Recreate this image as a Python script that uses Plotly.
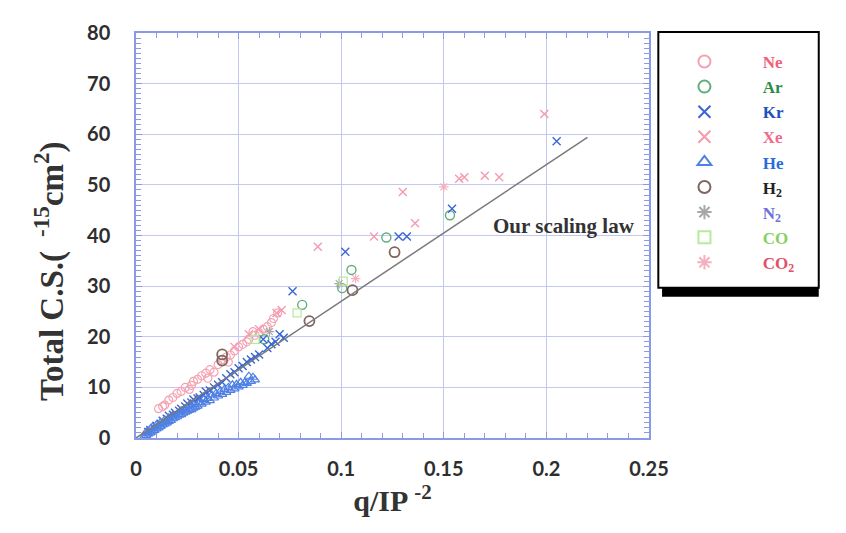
import plotly.graph_objects as go

# ---- data ----
ne_x = [0.011, 0.013, 0.014, 0.016, 0.018, 0.020, 0.022, 0.024, 0.026, 0.027, 0.028, 0.030, 0.032, 0.034,
        0.035, 0.036, 0.038, 0.040, 0.042, 0.044, 0.045, 0.046, 0.048, 0.050, 0.052, 0.054, 0.055, 0.057,
        0.058, 0.060, 0.062, 0.064, 0.066, 0.067, 0.069]
ne_y = [5.8, 6.2, 6.5, 7.5, 8.0, 8.8, 9.2, 10.0, 9.6, 10.4, 11.2, 11.6, 12.3, 12.8,
        11.8, 13.5, 13.0, 14.5, 15.5, 16.0, 15.0, 16.4, 17.2, 18.0, 18.5, 19.0, 19.5, 21.0,
        20.3, 20.8, 21.5, 22.0, 22.8, 23.6, 24.7]

ar_x = [0.0625, 0.081, 0.1005, 0.105, 0.122, 0.153]
ar_y = [19.5, 26.3, 29.6, 33.2, 39.6, 44.0]

kr_x = [0.006, 0.007, 0.009, 0.010, 0.012, 0.013, 0.015, 0.016, 0.018, 0.019, 0.021, 0.022, 0.024, 0.025,
        0.027, 0.028, 0.030, 0.031, 0.033, 0.034, 0.036, 0.038, 0.040, 0.042, 0.044, 0.046, 0.048, 0.050,
        0.052, 0.054, 0.056, 0.058, 0.060, 0.062, 0.064, 0.066, 0.068, 0.070, 0.072,
        0.0763, 0.102, 0.128, 0.132, 0.154, 0.205]
kr_y = [1.2, 1.6, 2.0, 2.4, 2.8, 3.4, 3.8, 4.4, 4.6, 5.0, 5.4, 5.8, 6.2, 6.8,
        7.0, 7.6, 7.8, 8.0, 8.5, 9.2, 9.4, 10.0, 10.5, 11.0, 11.8, 12.6, 13.0, 13.8,
        14.2, 15.0, 15.5, 16.0, 16.5, 19.5, 17.8, 18.5, 19.0, 20.5, 19.8,
        29.0, 36.8, 39.8, 39.8, 45.3, 58.6]

xe_x = [0.048, 0.055, 0.060, 0.0685, 0.071, 0.0886, 0.116, 0.130, 0.136, 0.1575, 0.160, 0.170, 0.177, 0.199]
xe_y = [18.0, 20.5, 21.5, 24.7, 25.3, 37.8, 39.8, 48.6, 42.4, 51.2, 51.5, 51.8, 51.5, 64.0]

he_x = [0.004, 0.005, 0.005, 0.006, 0.007, 0.007, 0.008, 0.008, 0.009, 0.010, 0.010, 0.011, 0.012, 0.012,
        0.013, 0.014, 0.014, 0.015, 0.016, 0.016, 0.017, 0.018, 0.018, 0.019, 0.020, 0.021, 0.022, 0.022,
        0.023, 0.024, 0.024, 0.025, 0.026, 0.026, 0.027, 0.028, 0.028, 0.029, 0.030, 0.031, 0.032, 0.033,
        0.034, 0.035, 0.036, 0.037, 0.038, 0.039, 0.040, 0.041, 0.042, 0.043, 0.044, 0.045, 0.046, 0.047,
        0.048, 0.049, 0.050, 0.051, 0.052, 0.053, 0.054, 0.055, 0.056, 0.057, 0.058]
he_y = [0.3, 0.5, 1.2, 0.8, 1.0, 1.8, 1.2, 2.2, 1.5, 1.8, 2.6, 2.0, 2.3, 3.1,
        2.6, 2.8, 3.6, 3.0, 3.3, 4.0, 3.5, 3.8, 4.5, 4.0, 4.2, 4.5, 4.6, 5.4,
        4.9, 5.1, 5.8, 5.3, 5.5, 6.4, 5.6, 5.9, 6.6, 6.1, 6.3, 7.0, 6.7, 7.6,
        7.1, 7.8, 7.4, 8.5, 7.9, 8.8, 8.3, 9.2, 8.6, 9.6, 9.0, 10.0, 9.4, 10.5,
        9.7, 10.6, 10.1, 11.0, 10.4, 11.0, 10.8, 12.2, 11.2, 12.0, 11.5]

h2_x = [0.042, 0.042, 0.0845, 0.1055, 0.126]
h2_y = [16.5, 15.3, 23.1, 29.2, 36.7]

n2_x = [0.065, 0.099]
n2_y = [21.0, 30.5]

co_x = [0.058, 0.0785, 0.101]
co_y = [19.5, 24.7, 31.0]

co2_x = [0.107, 0.150]
co2_y = [31.5, 49.6]

fit_x = [0.0, 0.22]
fit_slope = 270.0

x_ticks = [0, 0.05, 0.1, 0.15, 0.2, 0.25]
x_tick_labels = ["0", "0.05", "0.1", "0.15", "0.2", "0.25"]
y_ticks = [0, 10, 20, 30, 40, 50, 60, 70, 80]

# ---- figure ----
NBSP = "\u00a0"
series = [
    ("Ne", ne_x, ne_y, "circle-open", "#f5a3b3", "#f0607a", 1.2, 8),
    ("Ar", ar_x, ar_y, "circle-open", "#5fae7a", "#2e8b4a", 1.4, 9),
    ("Kr", kr_x, kr_y, "x-thin-open", "#3a66d4", "#1f4fc0", 1.4, 8),
    ("Xe", xe_x, xe_y, "x-thin-open", "#f59ab0", "#f06a8a", 1.4, 8),
    ("He", he_x, he_y, "triangle-up-open", "#4f80e4", "#2a6ae0", 1.2, 8),
    ("H<sub>2</sub>", h2_x, h2_y, "circle-open", "#80665c", "#222222", 1.8, 10),
    ("N<sub>2</sub>", n2_x, n2_y, "asterisk-open", "#a8a8a8", "#7070d8", 1.2, 8),
    ("CO", co_x, co_y, "square-open", "#b6ea9c", "#88d060", 1.2, 8),
    ("CO<sub>2</sub>", co2_x, co2_y, "asterisk-open", "#f5b0c0", "#e0506a", 1.2, 8),
]

fig = go.Figure()
for name, xs, ys, sym, mcol, tcol, lw, sz in series:
    fig.add_trace(go.Scatter(
        x=xs, y=ys, mode="markers",
        name=NBSP * 9 + f"<span style='color:{tcol}'>{name}</span>" + NBSP * 10,
        marker=dict(symbol=sym, size=sz, color=mcol, line=dict(color=mcol, width=lw)),
        hoverinfo="skip",
    ))

fig.add_trace(go.Scatter(
    x=fit_x, y=[fit_slope * v for v in fit_x], mode="lines",
    line=dict(color="#7a7a7a", width=1.5), showlegend=False, hoverinfo="skip",
))

fig.add_annotation(x=0.2086, y=41.8, xref="x", yref="y", text="Our scaling law",
                   showarrow=False, font=dict(family="Liberation Serif", size=21, color="#333333", weight="bold"))

def px_x(p):
    return (p - 128) / 550.0

def px_y(p):
    return (430 - p) / 407.0

fig.add_annotation(x=px_x(36), y=px_y(262), xref="paper", yref="paper", textangle=-90,
                   text="Total C.S.( <sup> -15</sup>cm<sup>2</sup>)", showarrow=False,
                   xanchor="center", yanchor="middle",
                   font=dict(family="Liberation Serif", size=33, color="#333333", weight="bold"))

axis_col = "#8a9ae8"
grid_col = "#c2c8f2"
tick_font = dict(family="Lato", size=20, color="#2e2e2e", weight="bold")

fig.update_xaxes(
    range=[0, 0.25], tickvals=x_ticks, ticktext=x_tick_labels,
    showgrid=True, gridcolor=grid_col, gridwidth=1,
    showline=True, linecolor=axis_col, linewidth=1.5, mirror="ticks",
    ticks="inside", ticklen=6, tickcolor=axis_col,
    minor=dict(dtick=0.01, ticks="inside", ticklen=5, tickcolor=axis_col, showgrid=False),
    tickfont=tick_font, ticklabelstandoff=12, zeroline=False,
    title=dict(text="q/IP <sup>-2</sup>", standoff=10,
               font=dict(family="Liberation Serif", size=30, color="#333333", weight="bold")),
)
fig.update_yaxes(
    range=[0, 80], tickvals=y_ticks,
    showgrid=True, gridcolor=grid_col, gridwidth=1,
    showline=True, linecolor=axis_col, linewidth=1.5, mirror="ticks",
    ticks="inside", ticklen=6, tickcolor=axis_col,
    minor=dict(dtick=1, ticks="inside", ticklen=5, tickcolor=axis_col, showgrid=False),
    tickfont=tick_font, ticklabelstandoff=20, zeroline=False,
)

# legend shadow and box
fig.add_shape(type="rect", xref="paper", yref="paper",
              x0=px_x(692), x1=px_x(860), y0=px_y(288), y1=px_y(30),
              fillcolor="#000000", line=dict(width=0), layer="above")
fig.add_shape(type="rect", xref="paper", yref="paper",
              x0=px_x(688), x1=px_x(860), y0=px_y(279), y1=px_y(22),
              fillcolor="#ffffff", line=dict(color="#000000", width=2), layer="above")

fig.update_layout(
    width=846, height=533,
    margin=dict(l=128, r=168, t=23, b=103),
    paper_bgcolor="white", plot_bgcolor="white",
    showlegend=True,
    legend=dict(x=px_x(716), y=px_y(34), xanchor="left", yanchor="top",
                bgcolor="rgba(0,0,0,0)", borderwidth=0, tracegroupgap=0,
                font=dict(family="Liberation Serif", size=17, weight="bold"),
                itemsizing="constant"),
    hovermode=False,
)

fig.write_html("out.html")
